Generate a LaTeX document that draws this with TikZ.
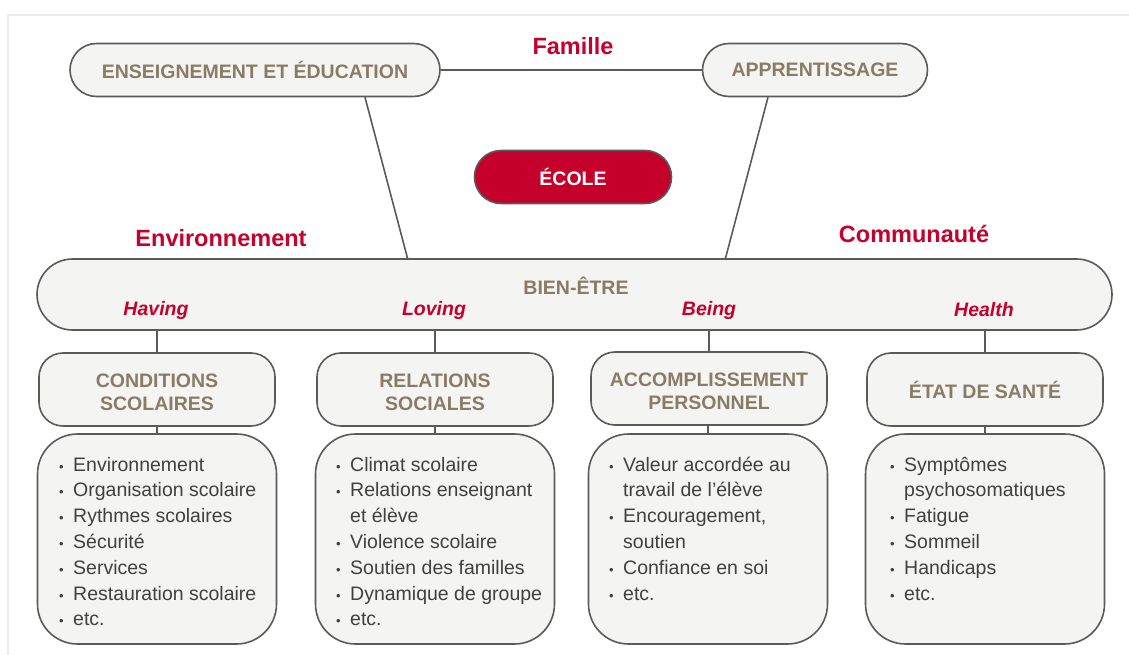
\documentclass[tikz,border=0pt]{standalone}
\usepackage{fontspec}
\setmainfont{Liberation Sans}
\usetikzlibrary{calc}
\definecolor{ecolered}{HTML}{C4002B}
\definecolor{labelbrown}{HTML}{8A7B66}
\definecolor{boxfill}{HTML}{F4F4F2}
\definecolor{boxline}{HTML}{5A5A5A}
\definecolor{itemgrey}{HTML}{404040}
\definecolor{framegrey}{HTML}{ECECEC}
\tikzset{
    pill/.style={draw=boxline,fill=boxfill,line width=1.6pt,rounded corners=26.5pt,minimum height=53pt,inner sep=0pt,text=labelbrown,font=\fontsize{19.5}{23.5}\selectfont\bfseries},
    catbox/.style={pill,rounded corners=24pt,minimum width=236pt,minimum height=73pt,align=center},
    listbox/.style={draw=boxline,fill=boxfill,line width=1.6pt,rounded corners=40pt,minimum width=239pt,minimum height=210pt,inner sep=0pt},
    boxlabel/.style={text=labelbrown,inner sep=0pt,font=\fontsize{19.5}{23.5}\selectfont\bfseries},
    redlabel/.style={text=ecolered,inner sep=0pt,font=\fontsize{23.5}{28}\selectfont\bfseries},
    qol/.style={text=ecolered,inner sep=0pt,font=\fontsize{19.5}{23.5}\selectfont\bfseries\itshape},
    link/.style={draw=boxline,line width=1.6pt},
    listitem/.style={anchor=base west,inner sep=0pt,text=itemgrey,font=\fontsize{19.5}{25.6}\selectfont},
    itemdot/.style={anchor=base west,inner sep=0pt,text=itemgrey,font=\fontsize{13}{13}\selectfont}
}

\begin{document}
\begin{tikzpicture}[x=1pt,y=-1pt]
\useasboundingbox (0,0) rectangle (1129,655);
\draw[framegrey,line width=2pt](8,655)--(8,15)--(1129,15);

% top of the diagram
\node[pill,minimum width=370pt](ens) at (255,70){ENSEIGNEMENT ET ÉDUCATION};
\node[pill,minimum width=225pt](app) at (815,70){APPRENTISSAGE};
\node[pill,minimum width=197pt,fill=ecolered,text=white](ecole) at (573,177){ÉCOLE};
\node[redlabel](famille) at (573,46){Famille};
\node[redlabel](envir) at (221,238){Environnement};
\node[redlabel](commu) at (914,234){Communauté};

% bien-etre
\node[pill,minimum width=1075pt,minimum height=71pt,rounded corners=35.5pt](bien) at (574.5,294.5){};
\node[boxlabel](bientxt) at (576,286){BIEN-ÊTRE};
\node[qol](having) at (156,310){Having};
\node[qol](loving) at (434,310){Loving};
\node[qol](being) at (709,310){Being};
\node[qol](health) at (984,310){Health};

\draw[link](ens.east)--(app.west);
\draw[link]([xshift=110pt]ens.south)--([xshift=-167pt]bien.north);
\draw[link]([xshift=-47pt]app.south)--([xshift=151pt]bien.north);

% the four domains
\node[catbox](cond) at (157,389.5){\rule{0pt}{19pt}CONDITIONS\\SCOLAIRES};
\node[catbox](rel) at (435,389.5){\rule{0pt}{19pt}RELATIONS\\SOCIALES};
\node[catbox](acc) at (709,388.5){\rule{0pt}{19pt}ACCOMPLISSEMENT\\PERSONNEL};
\node[catbox](sante) at (985,389.5){ÉTAT DE SANTÉ};

\node[listbox](condlist) at (157,539){};
\node[listbox](rellist) at (435,539){};
\node[listbox](acclist) at (708,539){};
\node[listbox](santelist) at (985,539){};

\foreach \a/\b in {cond/condlist,rel/rellist,acc/acclist,sante/santelist}
	{\draw[link](\a.north|-bien.south)--(\a.north);
	 \draw[link](\a.south)--(\b.north|-\a.south)--(\b.north);
	}

% items
\foreach \d/\t [count=\i] in {1/Environnement,1/Organisation scolaire,1/Rythmes scolaires,1/Sécurité,1/Services,1/Restauration scolaire,1/etc.}
	{\ifnum\d=1 \node[itemdot] at (59,{471+(\i-1)*25.8}){•};\fi
	 \node[listitem] at (73,{471+(\i-1)*25.8}){\t};
	}
\foreach \d/\t [count=\i] in {1/Climat scolaire,1/Relations enseignant,0/et élève,1/Violence scolaire,1/Soutien des familles,1/Dynamique de groupe,1/etc.}
	{\ifnum\d=1 \node[itemdot] at (336,{471+(\i-1)*25.8}){•};\fi
	 \node[listitem] at (350,{471+(\i-1)*25.8}){\t};
	}
\foreach \d/\t [count=\i] in {1/Valeur accordée au,0/travail de l’élève,1/{Encouragement,},0/soutien,1/Confiance en soi,1/etc.}
	{\ifnum\d=1 \node[itemdot] at (609,{471+(\i-1)*25.8}){•};\fi
	 \node[listitem] at (623,{471+(\i-1)*25.8}){\t};
	}
\foreach \d/\t [count=\i] in {1/Symptômes,0/psychosomatiques,1/Fatigue,1/Sommeil,1/Handicaps,1/etc.}
	{\ifnum\d=1 \node[itemdot] at (890,{471+(\i-1)*25.8}){•};\fi
	 \node[listitem] at (904,{471+(\i-1)*25.8}){\t};
	}
\end{tikzpicture}
\end{document}
